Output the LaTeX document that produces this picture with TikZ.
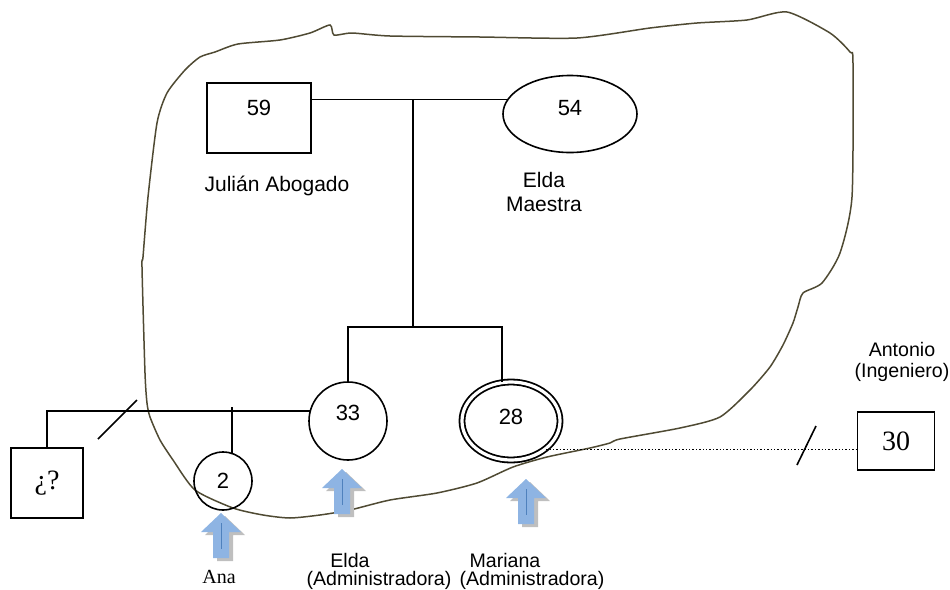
\documentclass[tikz,border=0pt]{standalone}
\usepackage{fontspec}
\setmainfont{Liberation Sans}
\newfontfamily\romana{Liberation Serif}
\usetikzlibrary{shapes.geometric}
\definecolor{contorno}{HTML}{4F4A33}
\definecolor{flecha}{HTML}{8EB4E3}
\definecolor{flechaosc}{HTML}{4F81BD}
\tikzset{
	persona/.style={draw,line width=0.8pt,inner sep=0pt,font=\fontsize{10.5}{12}\selectfont},
	hombre/.style={persona,rectangle},
	mujer/.style={persona,circle},
	esposa/.style={persona,ellipse},
	indice/.style={esposa,double,double distance=1.6pt,line width=0.9pt},
	numero/.style={font=\fontsize{11}{12}\selectfont,inner sep=0pt},
	nombre/.style={font=\fontsize{10.5}{12}\selectfont,inner sep=0pt,align=center},
	chico/.style={nombre,font=\fontsize{9.8}{10.5}\selectfont},
	romano/.style={font=\romana\fontsize{14}{16}\selectfont},
	linea/.style={line width=0.8pt}
}
\begin{document}
\begin{tikzpicture}[x=0.5pt,y=-0.5pt]
	\useasboundingbox (0,0) rectangle (950,590);
	\draw[contorno,line width=0.75pt] plot[smooth cycle,tension=0.4] coordinates {
		(215,52) (238,44) (280,40) (310,33) (330,25) (334,35) (352,33) (390,36) (480,37) (577,38)
		(650,28) (697,23) (747,20) (787,12) (830,33) (850,52) (853,63) (852,197) (840,253)
		(822,283) (803,293) (798,307) (793,323) (783,345) (770,367) (750,390) (720,417)
		(680,428) (620,439) (610,443) (590,448) (547,457) (513,467) (477,483) (437,493)
		(390,500) (350,510) (320,515) (290,518) (263,515) (233,508) (195,490) (173,460)
		(160,440) (150,417) (147,403) (145,373) (142,267) (143,257) (148,197) (157,123)
		(167,93) (185,70) (200,57)};
	\node[hombre,minimum width=52pt,minimum height=35pt,label={[numero,yshift=5pt]center:59}] (julian) at (259,118) {};
	\node[esposa,minimum width=67pt,minimum height=38.5pt,label={[numero,yshift=3pt]center:54}] (eldam) at (570,114) {};
	\node[mujer,minimum size=39pt,label={[numero,yshift=4pt]center:33}] (elda) at (348,421) {};
	\node[indice,minimum width=49pt,minimum height=39pt,label={[numero,yshift=2pt]center:28}] (mariana) at (511,421) {};
	\node[mujer,numero,draw,minimum size=29pt] (ana) at (223,481) {2};
	\node[hombre,romano,minimum width=36pt,minimum height=35pt] (desconocido) at (47,483) {¿?};
	\node[hombre,romano,minimum width=38.5pt,minimum height=29pt] (antonio) at (896,441) {30};
	\coordinate (pareja) at (413,100);
	\coordinate (hermanos) at (413,327);
	\draw[linea] (julian.east |- eldam.167) -- (eldam.167);
	\draw[linea] (pareja) -- (hermanos);
	\draw[linea] (elda.north) |- (hermanos) -| (mariana.103);
	\draw[linea] (desconocido.north) |- (elda.165);
	\draw[linea] (ana.72) -- ++(0,-46);
	\draw[linea] (98,439) -- (137,400);
	\draw[densely dotted,line width=0.7pt] (mariana.south east) -- (antonio.west |- mariana.south east);
	\draw[linea] (797,465) -- (816,426);
	\foreach \x/\y in {221/513,342/469,526/479}{
		\begin{scope}[shift={(\x,\y)}]
			\fill[gray!50] (4,3) -- (24,22) -- (12,22) -- (12,48) -- (-4,48) -- (-4,22) -- (-16,22) -- cycle;
			\fill[flecha] (0,0) -- (20,19) -- (8,19) -- (8,45) -- (-8,45) -- (-8,19) -- (-20,19) -- cycle;
			\draw[flechaosc,line width=0.4pt] (0,10) -- (0,36);
		\end{scope}
	}
	\node[nombre] (julian-n) at (277,186) {Julián Abogado};
	\node[nombre] (eldam-n) at (544,192) {Elda\\Maestra};
	\node[chico] (antonio-n) at (902,362) {Antonio\\(Ingeniero)};
	\node[font=\romana\fontsize{10}{11}\selectfont,inner sep=0pt] (ana-n) at (219,577) {Ana};
	\node[chico] (elda-n) at (350,560) {Elda};
	\node[chico] (elda-o) at (379,580) {(Administradora)};
	\node[chico] (mariana-n) at (505,560) {Mariana};
	\node[chico] (mariana-o) at (532,580) {(Administradora)};
\end{tikzpicture}
\end{document}
